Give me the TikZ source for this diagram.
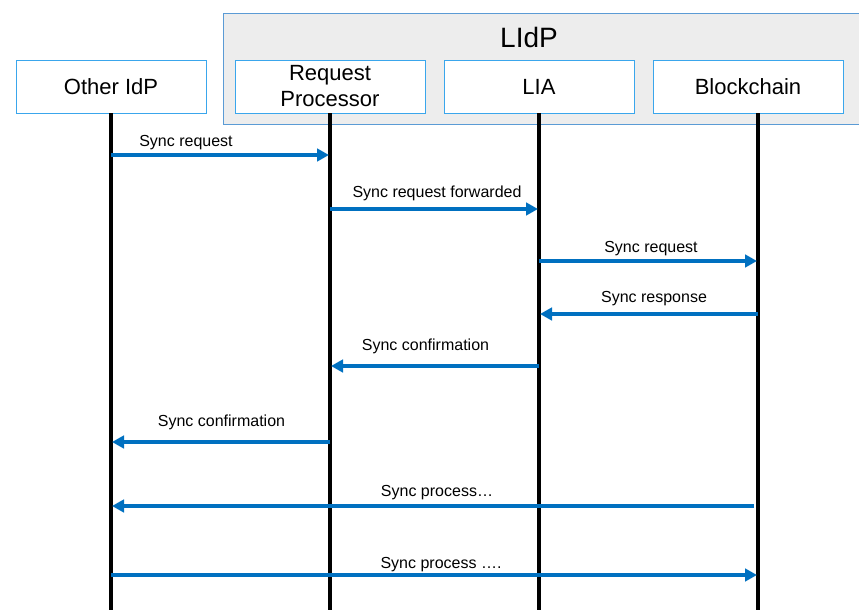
\documentclass[tikz,border=0pt]{standalone}
\usepackage{fontspec}
\setmainfont{Liberation Sans}
\usetikzlibrary{arrows.meta}
\definecolor{msgblue}{HTML}{0070C0}
\definecolor{boxline}{HTML}{3AA6EC}
\definecolor{groupline}{HTML}{5B9BD5}
\definecolor{groupfill}{HTML}{EDEDED}
\tikzset{
  actor/.style={draw=boxline, line width=0.9pt, fill=white, minimum width=190pt,
    minimum height=53pt, inner sep=0pt, align=center, font=\fontsize{22}{26}\selectfont},
  lifeline/.style={line width=3.5pt, black},
  msg/.style={line width=3.3pt, msgblue, shorten >=1pt, -{Triangle[length=12pt,width=12.5pt]}},
  msglabel/.style={anchor=base, inner sep=0pt, font=\fontsize{16}{19}\selectfont},
}
\begin{document}
\begin{tikzpicture}[x=1pt, y=-1pt]
\useasboundingbox (0,0) rectangle (859,610);
\clip (0,0) rectangle (859,610);

% group frame
\node[draw=groupline, line width=1.2pt, fill=groupfill, minimum width=650pt,
  minimum height=111pt, inner sep=0pt, anchor=north west] (lidp) at (223,13) {};
\node[anchor=base, inner sep=0pt, font=\fontsize{28}{32}\selectfont] (lidplabel) at (529,48) {LIdP};

% participants
\node[actor] (other) at (111,86.5) {Other IdP};
\node[actor] (rp)    at (330,86.5) {Request\\Processor};
\node[actor] (lia)   at (539,86.5) {LIA};
\node[actor] (bc)    at (748,86.5) {Blockchain};

% lifelines
\coordinate (bottom) at (0,612);
\coordinate (olife) at (111,0);
\coordinate (rlife) at (330,0);
\coordinate (llife) at (539,0);
\coordinate (blife) at (758,0);
\draw[lifeline] (olife |- other.south) -- (olife |- bottom);
\draw[lifeline] (rlife |- rp.south) -- (rlife |- bottom);
\draw[lifeline] (llife |- lia.south) -- (llife |- bottom);
\draw[lifeline] (blife |- bc.south) -- (blife |- bottom);

% message rows
\coordinate (m1) at (0,155);
\coordinate (m2) at (0,209);
\coordinate (m3) at (0,261);
\coordinate (m4) at (0,314);
\coordinate (m5) at (0,366);
\coordinate (m6) at (0,442);
\coordinate (m7) at (0,506);
\coordinate (m8) at (0,575);

\draw[msg] (olife |- m1) -- (rlife |- m1);
\draw[msg] (rlife |- m2) -- (llife |- m2);
\draw[msg] (llife |- m3) -- (blife |- m3);
\draw[msg] (blife |- m4) -- (llife |- m4);
\draw[msg] (llife |- m5) -- (rlife |- m5);
\draw[msg] (rlife |- m6) -- (olife |- m6);
\draw[msg, shorten <=4pt] (blife |- m7) -- (olife |- m7);
\draw[msg] (olife |- m8) -- (blife |- m8);

% message labels
\node[msglabel] (l1) at (186,146) {Sync request};
\node[msglabel] (l2) at (437,197) {Sync request forwarded};
\node[msglabel] (l3) at (651,252) {Sync request};
\node[msglabel] (l4) at (654,302) {Sync response};
\node[msglabel] (l5) at (425.5,350) {Sync confirmation};
\node[msglabel] (l6) at (221.5,426) {Sync confirmation};
\node[msglabel] (l7) at (437,496) {Sync process…};
\node[msglabel] (l8) at (441,568) {Sync process ….};
\end{tikzpicture}
\end{document}
